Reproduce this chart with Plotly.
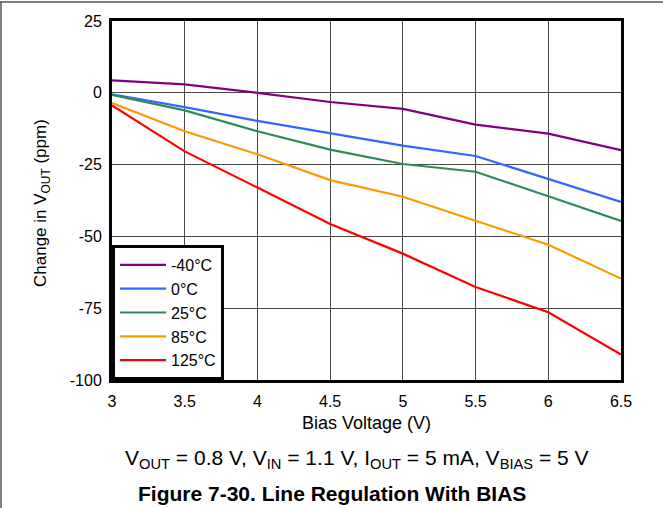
import plotly.graph_objects as go

bias_v = [3, 3.5, 4, 4.5, 5, 5.5, 6, 6.5]
series_names = ["-40°C", "0°C", "25°C", "85°C", "125°C"]
t_m40 = [4.3, 2.9, 0.0, -3.2, -5.6, -11.1, -14.2, -20.0]
t_0 = [-0.5, -5.0, -9.8, -14.2, -18.4, -22.0, -30.1, -38.0]
t_25 = [-0.7, -6.1, -13.4, -19.8, -24.8, -27.5, -36.0, -44.6]
t_85 = [-3.6, -13.4, -21.4, -30.4, -36.2, -44.6, -52.9, -64.7]
t_125 = [-4.4, -20.4, -33.0, -45.7, -56.0, -67.6, -76.4, -91.1]
colors = ["#800080", "#3366FF", "#2E8B57", "#FF9900", "#FF0000"]
x_ticks = [3, 3.5, 4, 4.5, 5, 5.5, 6, 6.5]
y_ticks = [25, 0, -25, -50, -75, -100]

fig = go.Figure()
for name, vals, c in zip(series_names, [t_m40, t_0, t_25, t_85, t_125], colors):
    fig.add_trace(go.Scatter(x=bias_v, y=vals, mode="lines", name=name,
                             line=dict(color=c, width=2.2)))

W, H = 663, 508
ml, mr, mt, mb = 112, 42, 21, 128
pw, ph = W - ml - mr, H - mt - mb


def py(p):
    return (H - mb - p) / ph


def px(p):
    return (p - ml) / pw


font_family = "Liberation Sans, Arial, sans-serif"
fig.update_layout(
    width=W, height=H,
    margin=dict(l=ml, r=mr, t=mt, b=mb, autoexpand=False),
    paper_bgcolor="white", plot_bgcolor="white",
    font=dict(family=font_family, size=16, color="black"),
    showlegend=True,
    legend=dict(x=0, y=0, xanchor="left", yanchor="bottom",
                bordercolor="black", borderwidth=3, bgcolor="white",
                font=dict(size=16), tracegroupgap=0, itemwidth=46),
    xaxis=dict(range=[3, 6.5], tickvals=x_ticks, ticktext=[str(v) for v in x_ticks],
               showgrid=True, gridcolor="#4a4a4a", gridwidth=1,
               showline=True, linecolor="black", linewidth=3, mirror=True,
               ticks="", zeroline=False, automargin=False, ticklabelstandoff=5,
               title=dict(text="Bias Voltage (V)", font=dict(size=18), standoff=8),
               tickfont=dict(size=16)),
    yaxis=dict(range=[-100, 25], tickvals=y_ticks, ticktext=[str(v) for v in y_ticks],
               showgrid=True, gridcolor="#4a4a4a", gridwidth=1,
               showline=True, linecolor="black", linewidth=3, mirror=True,
               ticks="", zeroline=False, automargin=False, ticklabelstandoff=4,
               tickfont=dict(size=16)),
)

fig.add_annotation(xref="paper", yref="paper", x=px(42), y=py(203),
                   text="Change in V<sub>OUT</sub> (ppm)", textangle=-90,
                   showarrow=False, font=dict(size=17),
                   xanchor="center", yanchor="middle")
fig.add_annotation(xref="paper", yref="paper", x=px(357), y=py(459),
                   text="V<sub>OUT</sub> = 0.8 V, V<sub>IN</sub> = 1.1 V, I<sub>OUT</sub> = 5 mA, V<sub>BIAS</sub> = 5 V",
                   showarrow=False, font=dict(size=21), yanchor="middle")
fig.add_annotation(xref="paper", yref="paper", x=px(332), y=py(493),
                   text="<b>Figure 7-30. Line Regulation With BIAS</b>",
                   showarrow=False, font=dict(size=21), yanchor="middle")

# outer frame lines (top and left)
fig.add_shape(type="line", xref="paper", yref="paper",
              x0=px(0), x1=px(W), y0=py(2), y1=py(2),
              line=dict(color="#555555", width=1.5))
fig.add_shape(type="line", xref="paper", yref="paper",
              x0=px(1), x1=px(1), y0=py(H), y1=py(2),
              line=dict(color="#555555", width=1.5))

fig.write_html("out.html", config={"displayModeBar": False},
               post_script="document.body.style.margin='0';")
